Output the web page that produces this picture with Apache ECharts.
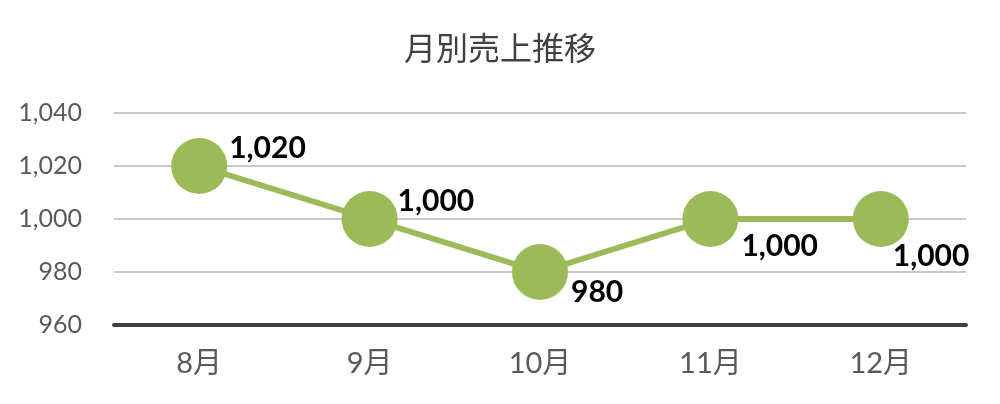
<!DOCTYPE html>
<html>
<head>
<meta charset="utf-8">
<script src="https://cdn.jsdelivr.net/npm/echarts@6/dist/echarts.min.js"></script>
<style>html,body{margin:0;padding:0;background:#fff;}#c{width:1000px;height:404px;}</style>
</head>
<body>
<div id="c"></div>
<script>
const categories = ['8月', '9月', '10月', '11月', '12月'];
const sales = [1020, 1000, 980, 1000, 1000];
const yTicks = { min: 960, max: 1040, interval: 20 };
const titleText = '月別売上推移';
// label placement offsets (style only)
const labelOffsets = [[2, -18], [0, -18], [3, 20], [3, 27], [-16, 37]];

const chart = echarts.init(document.getElementById('c'), null, { renderer: 'canvas' });
const fmt = v => Number(v).toLocaleString('en-US');
chart.setOption({
  animation: false,
  backgroundColor: '#fff',
  title: {
    text: titleText, left: 'center', top: 27,
    textStyle: { fontFamily: 'Noto Sans CJK JP', fontSize: 32, fontWeight: 'normal', color: '#404040' }
  },
  grid: { left: 114, right: 34, top: 113, bottom: 79 },
  xAxis: {
    type: 'category', data: categories, boundaryGap: true,
    axisLine: { show: true, lineStyle: { color: '#404040', width: 4 } },
    axisTick: { show: false },
    axisLabel: { margin: 24, fontSize: 29, color: '#595959', fontFamily: 'Lato, "Noto Sans CJK JP"' }
  },
  yAxis: {
    type: 'value', min: yTicks.min, max: yTicks.max, interval: yTicks.interval,
    axisLine: { show: false }, axisTick: { show: false },
    axisLabel: { margin: 32, fontSize: 25, color: '#595959', fontFamily: 'Lato', formatter: fmt },
    splitLine: { lineStyle: { color: '#c8c8c8', width: 2 } }
  },
  series: [{
    type: 'line',
    data: sales.map((v, i) => ({
      value: v,
      label: { offset: labelOffsets[i] }
    })),
    symbol: 'circle', symbolSize: 56,
    lineStyle: { color: '#9BBB59', width: 6 },
    itemStyle: { color: '#9BBB59' },
    label: {
      show: true, position: 'right', distance: 0,
      fontFamily: 'Lato', fontWeight: 'bold', fontSize: 30, color: '#000',
      formatter: p => fmt(p.value)
    },
    z: 3
  }]
});
</script>
</body>
</html>
